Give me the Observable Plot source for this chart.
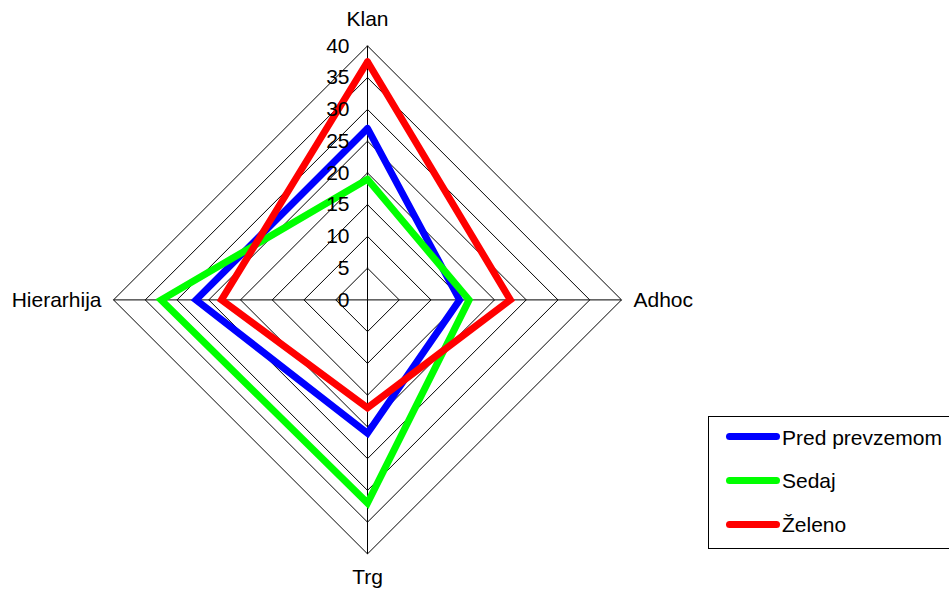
<!DOCTYPE html>
<html>
<head>
<meta charset="utf-8">
<script src="https://cdn.jsdelivr.net/npm/d3@7"></script>
<script src="https://cdn.jsdelivr.net/npm/@observablehq/plot@0.6"></script>
<style>
  html, body { margin: 0; padding: 0; background: #fff; overflow: hidden; }
  #wrap { position: relative; width: 949px; height: 589px; font-family: "Liberation Sans", Arial, sans-serif; }
  #legend { position: absolute; left: 708px; top: 416px; width: 260px; height: 131px; border: 1px solid #000; box-sizing: content-box; background: #fff; }
  .sw { position: absolute; left: 17px; width: 54px; height: 7px; border-radius: 3.5px; }
  .lab { position: absolute; left: 73px; font-size: 21px; color: #000; white-space: nowrap; line-height: 24px; }
</style>
</head>
<body>
<div id="wrap"></div>
<script>
// Radar axes, clockwise from the top
const axes = ["Klan", "Adhoc", "Trg", "Hierarhija"];
const seriesNames = ["Pred prevzemom", "Sedaj", "Želeno"];
const predPrevzemom = [27, 14.5, 21, 27];
const sedaj = [19, 16, 32, 32.5];
const zeleno = [37.5, 22.5, 17, 23];
const ringTicks = [0, 5, 10, 15, 20, 25, 30, 35, 40];
const seriesColors = ["#0000ff", "#00ff00", "#ff0000"];

const W = 949, H = 589;
const cx = 367, cy = 299.4, radius = 254, vmax = 40;
const k = radius / vmax;

const angle = i => i * Math.PI / 2;
const px = (v, i) => v * Math.sin(angle(i));
const py = (v, i) => v * Math.cos(angle(i));

// closed polygon points for a list of values
function polygon(values, key) {
  const pts = values.map((v, i) => ({key, x: px(v, i), y: py(v, i)}));
  pts.push({...pts[0]});
  return pts;
}

const seriesValues = [predPrevzemom, sedaj, zeleno];
const seriesPts = seriesValues.flatMap((vals, s) => polygon(vals, seriesNames[s]));
const rings = ringTicks.filter(t => t > 0).flatMap(t => polygon(axes.map(() => t), t));
const spokes = axes.map((a, i) => ({a, x: px(vmax, i), y: py(vmax, i)}));

const labelOffsets = {
  Klan: {dx: 0, dy: -27, anchor: "middle"},
  Adhoc: {dx: 12, dy: 0, anchor: "start"},
  Trg: {dx: 0, dy: 23, anchor: "middle"},
  Hierarhija: {dx: -12, dy: 0, anchor: "end"}
};

const chart = Plot.plot({
  width: W,
  height: H,
  margin: 0,
  style: {fontFamily: "'Liberation Sans', Arial, sans-serif", background: "#fff"},
  x: {type: "linear", domain: [-cx / k, (W - cx) / k], range: [0, W], axis: null},
  y: {type: "linear", domain: [-(H - cy) / k, cy / k], range: [H, 0], axis: null},
  color: {domain: seriesNames, range: seriesColors},
  marks: [
    Plot.line(rings, {x: "x", y: "y", z: "key", stroke: "#000", strokeWidth: 1}),
    Plot.link(spokes, {x1: 0, y1: 0, x2: "x", y2: "y", stroke: "#000", strokeWidth: 1}),
    Plot.line(seriesPts, {x: "x", y: "y", z: "key", stroke: "key", strokeWidth: 7, strokeLinejoin: "miter", strokeMiterlimit: 10}),
    Plot.text(ringTicks, {x: 0, y: d => d, text: d => String(d), textAnchor: "end", dx: -18, fontSize: 21, fill: "#000"}),
    ...axes.map((a, i) => Plot.text([a], {
      x: px(vmax, i), y: py(vmax, i), text: d => d,
      dx: labelOffsets[a].dx, dy: labelOffsets[a].dy, textAnchor: labelOffsets[a].anchor,
      fontSize: 21, fill: "#000"
    }))
  ]
});

const wrap = document.getElementById("wrap");
wrap.appendChild(chart);

// Legend box
const legend = document.createElement("div");
legend.id = "legend";
const rowCenters = [19.7, 63, 107.3];
seriesNames.forEach((name, i) => {
  const sw = document.createElement("div");
  sw.className = "sw";
  sw.style.background = seriesColors[i];
  sw.style.top = (rowCenters[i] - 3.5) + "px";
  legend.appendChild(sw);
  const lab = document.createElement("div");
  lab.className = "lab";
  lab.style.top = (rowCenters[i] - 11) + "px";
  lab.textContent = name;
  legend.appendChild(lab);
});
wrap.appendChild(legend);
</script>
</body>
</html>
